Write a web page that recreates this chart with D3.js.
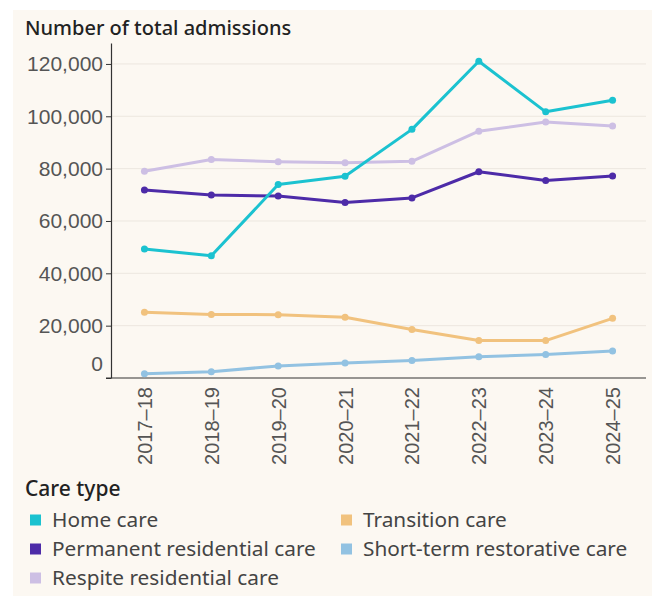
<!DOCTYPE html>
<html>
<head>
<meta charset="utf-8">
<script src="https://cdn.jsdelivr.net/npm/d3@7"></script>
<style>
  body { margin: 0; background: #ffffff; }
  svg { display: block; }
</style>
</head>
<body>
<svg id="chart" width="657" height="596"></svg>
<script>
// data
const years = ["2017–18", "2018–19", "2019–20", "2020–21", "2021–22", "2022–23", "2023–24", "2024–25"];
const homeCare = [49300, 46700, 73900, 77100, 95000, 121000, 101700, 106100];
const permanentResidential = [71800, 69900, 69500, 67100, 68800, 78800, 75500, 77200];
const respiteResidential = [79000, 83500, 82600, 82200, 82800, 94300, 97800, 96300];
const transitionCare = [25100, 24300, 24200, 23200, 18500, 14300, 14300, 22800];
const shortTermRestorative = [1600, 2400, 4600, 5700, 6700, 8100, 9000, 10300];
const yTicks = [0, 20000, 40000, 60000, 80000, 100000, 120000];

const series = [
    { name: "Respite residential care", values: respiteResidential, colour: "#cdbfe4" },
    { name: "Transition care", values: transitionCare, colour: "#f1c27e" },
    { name: "Short-term restorative care", values: shortTermRestorative, colour: "#92c2e2" },
    { name: "Permanent residential care", values: permanentResidential, colour: "#4d2ba8" },
    { name: "Home care", values: homeCare, colour: "#1bc2d0" }
];
// legend laid out in two columns like the original
const legendItems = [
    { name: "Home care", col: 0, row: 0 },
    { name: "Permanent residential care", col: 0, row: 1 },
    { name: "Respite residential care", col: 0, row: 2 },
    { name: "Transition care", col: 1, row: 0 },
    { name: "Short-term restorative care", col: 1, row: 1 }
];

const svg = d3.select("#chart");
const W = 657, H = 596;
const margin = { top: 43, left: 111, right: 11 };
const plotBottom = 378;

//bg panel
svg.append("rect")
    .attr("x", 13).attr("y", 10)
    .attr("width", W - 18).attr("height", H - 10)
    .attr("fill", "#fcf8f2");

const x = d3.scalePoint()
    .domain(years)
    .range([margin.left, W - margin.right])
    .padding(0.5);

const y = d3.scaleLinear()
    .domain([0, 128000])
    .range([plotBottom, margin.top]);

//gridlines
svg.append("g")
    .selectAll("line")
    .data(yTicks.filter(d => d > 0))
    .join("line")
        .attr("x1", margin.left)
        .attr("x2", W - margin.right)
        .attr("y1", d => y(d))
        .attr("y2", d => y(d))
        .attr("stroke", "#ece7df")
        .attr("stroke-width", 1);

//y axis
const yAxisG = svg.append("g")
    .attr("transform", `translate(${margin.left},0)`)
    .call(d3.axisLeft(y).tickValues(yTicks).tickFormat(d3.format(",")).tickSize(5).tickPadding(3).tickSizeOuter(0));
yAxisG.select(".domain").attr("stroke", "#333").attr("stroke-width", 1.2);
yAxisG.selectAll(".tick line").attr("stroke", "#333");
yAxisG.selectAll(".tick text")
    .attr("fill", "#555")
    .attr("font-family", "'Liberation Sans', Arial, sans-serif")
    .attr("font-size", 21)
    .filter(d => d === 0)
        .attr("dy", "-0.35em");

//x axis
const xAxisG = svg.append("g")
    .attr("transform", `translate(0,${plotBottom})`)
    .call(d3.axisBottom(x).tickSize(0).tickPadding(8).tickSizeOuter(0));
xAxisG.select(".domain")
    .attr("d", `M${margin.left - 5},0H${W - margin.right}`)
    .attr("stroke", "#333").attr("stroke-width", 1.2);
xAxisG.selectAll(".tick text")
    .attr("fill", "#555")
    .attr("font-family", "'Liberation Sans', Arial, sans-serif")
    .attr("font-size", 20)
    .attr("transform", "rotate(-90)")
    .attr("text-anchor", "end")
    .attr("x", -9)
    .attr("y", 0)
    .attr("dy", "0.35em");

//lines
const line = d3.line()
    .x((d, i) => x(years[i]))
    .y(d => y(d));

const seriesG = svg.append("g")
    .selectAll("g.series")
    .data(series)
    .join("g")
        .attr("class", "series");

seriesG.append("path")
    .attr("d", d => line(d.values))
    .attr("fill", "none")
    .attr("stroke", d => d.colour)
    .attr("stroke-width", 3)
    .attr("stroke-linejoin", "round");

seriesG.each(function(s){
    d3.select(this).selectAll("circle")
        .data(s.values)
        .join("circle")
            .attr("cx", (d, i) => x(years[i]))
            .attr("cy", d => y(d))
            .attr("r", 3.5)
            .attr("fill", s.colour);
});

//title
svg.append("text")
    .attr("x", 25).attr("y", 35)
    .attr("font-family", "'Noto Sans', sans-serif")
    .attr("font-weight", 500)
    .attr("font-size", 20)
    .attr("fill", "#222")
    .text("Number of total admissions");

//legend
const colourOf = name => series.find(s => s.name === name).colour;
const legendG = svg.append("g");
legendG.append("text")
    .attr("x", 25).attr("y", 496)
    .attr("font-family", "'Noto Sans', sans-serif")
    .attr("font-weight", 500)
    .attr("font-size", 21)
    .attr("fill", "#222")
    .text("Care type");

const itemG = legendG.selectAll("g.item")
    .data(legendItems)
    .join("g")
        .attr("class", "item")
        .attr("transform", d => `translate(${d.col === 0 ? 30 : 341},${520 + d.row * 29})`);

itemG.append("rect")
    .attr("x", 0).attr("y", -5.5)
    .attr("width", 11).attr("height", 11)
    .attr("fill", d => colourOf(d.name));

itemG.append("text")
    .attr("x", 22).attr("y", 0)
    .attr("dy", "0.35em")
    .attr("font-family", "'Noto Sans', sans-serif")
    .attr("font-size", 20.8)
    .attr("fill", "#444")
    .text(d => d.name);
</script>
</body>
</html>
